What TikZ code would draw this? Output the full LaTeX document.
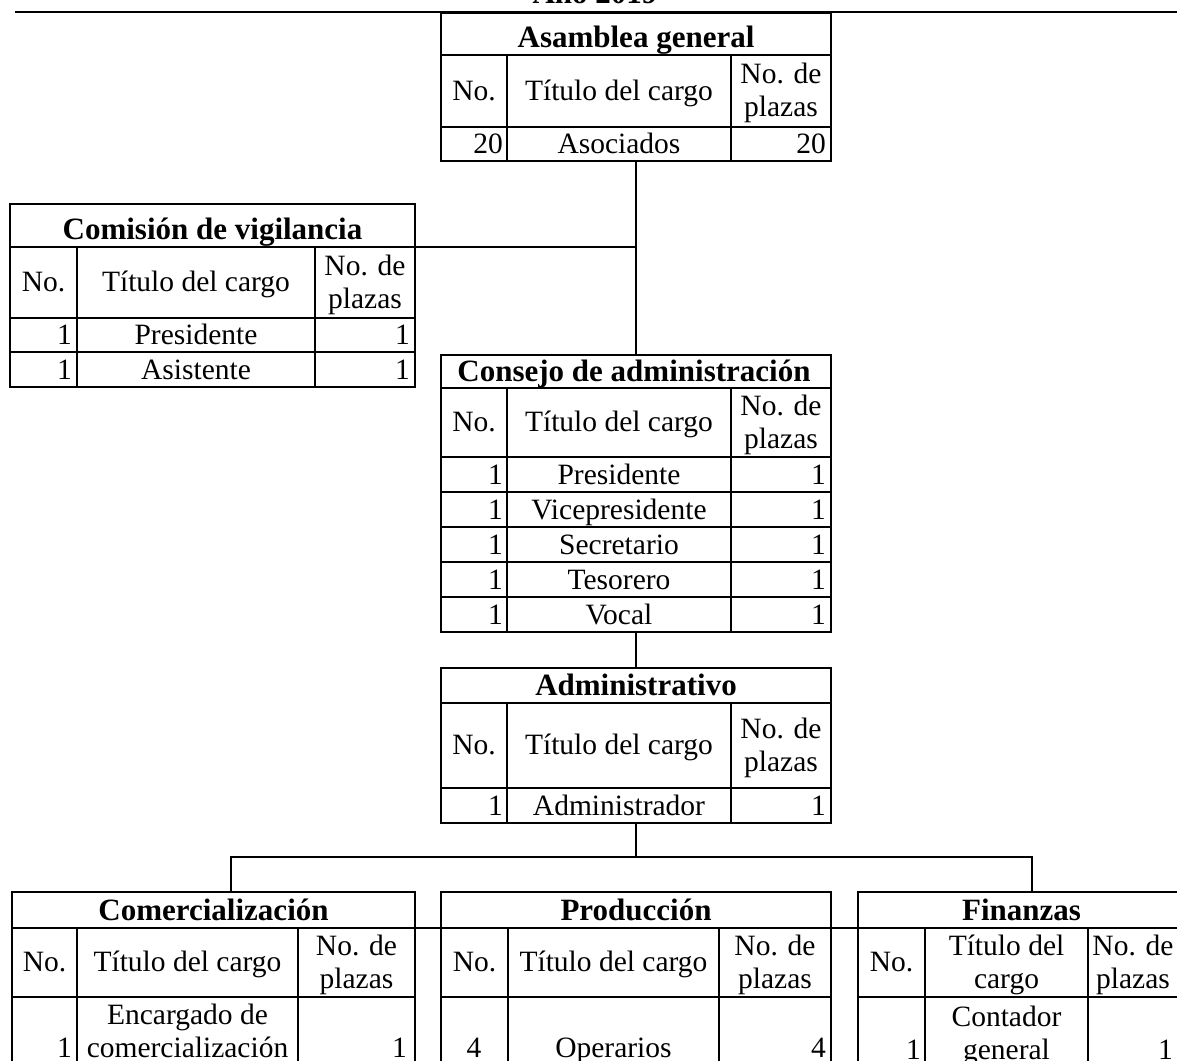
\documentclass[tikz,border=0pt]{standalone}
\usepackage{fontspec}
\setmainfont{Liberation Serif}
\begin{document}
\begin{tikzpicture}[x=1pt,y=-1pt,
  tframe/.style={draw, line width=1.5pt, inner sep=0pt, outer sep=0pt, anchor=north west},
  gline/.style={line width=1.3pt},
  link/.style={line width=1.4pt},
  txt/.style={inner sep=0pt, font=\fontsize{29.5}{33}\selectfont, anchor=base},
  rtxt/.style={txt, anchor=base east},
  ttl/.style={txt, font=\fontsize{31}{34}\selectfont\bfseries},
  two/.style={inner sep=0pt, font=\fontsize{29.5}{33}\selectfont, align=center, anchor=north},
]
\path[use as bounding box] (0,0) rectangle (1177,1060);
\clip (0,0) rectangle (1177,1060);

% top rule and clipped heading
\coordinate (topL) at (15,12);
\coordinate (topR) at (1177,12);
\draw[line width=2.6pt] (topL) -- (topR);
\node[ttl] (year) at (595,4) {Año 2019};

% Asamblea general
\node[tframe, minimum width=390pt, minimum height=148pt] (asam) at (441,13) {};
\draw[gline] (441,55) -- (831,55) (441,127) -- (831,127) (507,55) -- (507,161) (731,55) -- (731,161);
\node[ttl] (asamT) at (636,47) {Asamblea general};
\node[txt] (asamH1) at (474,100) {No.};
\node[txt] (asamH2) at (619,100) {Título del cargo};
\node[two] (asamH3) at (781,63) {No. de\\plazas};
\node[rtxt] (asamD1) at (503,153) {20};
\node[txt] (asamD2) at (619,153) {Asociados};
\node[rtxt] (asamD3) at (826,153) {20};

% Comision de vigilancia
\node[tframe, minimum width=405pt, minimum height=183pt] (vig) at (10,204) {};
\draw[gline] (10,247) -- (415,247) (10,318) -- (415,318) (10,352) -- (415,352)
  (77,247) -- (77,387) (315,247) -- (315,387);
\node[ttl] (vigT) at (212.5,239) {Comisión de vigilancia};
\node[txt] (vigH1) at (43.5,291.5) {No.};
\node[txt] (vigH2) at (196,291.5) {Título del cargo};
\node[two] (vigH3) at (365,254.5) {No. de\\plazas};
\node[rtxt] (vigA1) at (72,344) {1};
\node[txt] (vigA2) at (196,344) {Presidente};
\node[rtxt] (vigA3) at (410,344) {1};
\node[rtxt] (vigB1) at (72,379) {1};
\node[txt] (vigB2) at (196,379) {Asistente};
\node[rtxt] (vigB3) at (410,379) {1};

% Consejo de administracion
\node[tframe, minimum width=390pt, minimum height=277pt] (cons) at (441,355) {};
\draw[gline] (441,388) -- (831,388) (441,457) -- (831,457) (441,492) -- (831,492)
  (441,527) -- (831,527) (441,562) -- (831,562) (441,597) -- (831,597)
  (507,388) -- (507,632) (731,388) -- (731,632);
\node[ttl] (consT) at (634,381) {Consejo de administración};
\node[txt] (consH1) at (474,431.5) {No.};
\node[txt] (consH2) at (619,431.5) {Título del cargo};
\node[two] (consH3) at (781,394.5) {No. de\\plazas};
\node[rtxt] (consA1) at (503,484) {1};
\node[txt] (consA2) at (619,484) {Presidente};
\node[rtxt] (consA3) at (826,484) {1};
\node[rtxt] (consB1) at (503,519) {1};
\node[txt] (consB2) at (619,519) {Vicepresidente};
\node[rtxt] (consB3) at (826,519) {1};
\node[rtxt] (consC1) at (503,554) {1};
\node[txt] (consC2) at (619,554) {Secretario};
\node[rtxt] (consC3) at (826,554) {1};
\node[rtxt] (consD1) at (503,589) {1};
\node[txt] (consD2) at (619,589) {Tesorero};
\node[rtxt] (consD3) at (826,589) {1};
\node[rtxt] (consE1) at (503,624) {1};
\node[txt] (consE2) at (619,624) {Vocal};
\node[rtxt] (consE3) at (826,624) {1};

% Administrativo
\node[tframe, minimum width=390pt, minimum height=155pt] (admin) at (441,668) {};
\draw[gline] (441,703) -- (831,703) (441,788) -- (831,788) (507,703) -- (507,823) (731,703) -- (731,823);
\node[ttl] (adminT) at (636,695) {Administrativo};
\node[txt] (adminH1) at (474,754.5) {No.};
\node[txt] (adminH2) at (619,754.5) {Título del cargo};
\node[two] (adminH3) at (781,717.5) {No. de\\plazas};
\node[rtxt] (adminA1) at (503,815) {1};
\node[txt] (adminA2) at (619,815) {Administrador};
\node[rtxt] (adminA3) at (826,815) {1};

% Comercializacion
\node[tframe, minimum width=403pt, minimum height=200pt] (comer) at (12,892) {};
\draw[gline] (12,997) -- (415,997) (77,928) -- (77,1092) (298,928) -- (298,1092);
\node[ttl] (comerT) at (213.5,920) {Comercialización};
\node[txt] (comerH1) at (44.5,971.5) {No.};
\node[txt] (comerH2) at (187.5,971.5) {Título del cargo};
\node[two] (comerH3) at (356.5,934.5) {No. de\\plazas};
\node[rtxt] (comerA1) at (72,1057) {1};
\node[two] (comerA2) at (187.5,1004) {Encargado de\\comercialización};
\node[rtxt] (comerA3) at (407,1057) {1};

% Produccion
\node[tframe, minimum width=390pt, minimum height=200pt] (prod) at (441,892) {};
\draw[gline] (441,997) -- (831,997) (508,928) -- (508,1092) (719,928) -- (719,1092);
\node[ttl] (prodT) at (636,920) {Producción};
\node[txt] (prodH1) at (474.5,971.5) {No.};
\node[txt] (prodH2) at (613.5,971.5) {Título del cargo};
\node[two] (prodH3) at (775,934.5) {No. de\\plazas};
\node[txt] (prodA1) at (474,1057) {4};
\node[txt] (prodA2) at (613.5,1057) {Operarios};
\node[rtxt] (prodA3) at (826,1057) {4};

% Finanzas
\node[tframe, minimum width=327pt, minimum height=200pt] (finan) at (858,892) {};
\draw[gline] (858,997) -- (1185,997) (925,928) -- (925,1092) (1088,928) -- (1088,1092);
\node[ttl] (finanT) at (1021.5,920) {Finanzas};
\node[txt] (finanH1) at (891.5,971.5) {No.};
\node[two] (finanH2) at (1006.5,934.5) {Título del\\cargo};
\node[two] (finanH3) at (1133,934.5) {No. de\\plazas};
\node[rtxt] (finanA1) at (921,1059) {1};
\node[two] (finanA2) at (1006.5,1006) {Contador\\general};
\node[rtxt] (finanA3) at (1173,1059) {1};

% line under the titles of the lower row
\draw[gline] (comer.west |- 0,928) -- (finan.east |- 0,928);

% connectors
\draw[link] (asam.south) -- (cons.north);
\coordinate (vigR) at (415,247);
\draw[link] (vigR) -- (vigR -| asam.south);
\draw[link] (cons.south) -- (admin.north);
\coordinate (busL) at (231,857);
\coordinate (busR) at (1032,857);
\draw[link] (admin.south) -- (admin.south |- busL);
\draw[link] (busL |- comer.north) -- (busL) -- (busR) -- (busR |- finan.north);
\end{tikzpicture}
\end{document}
